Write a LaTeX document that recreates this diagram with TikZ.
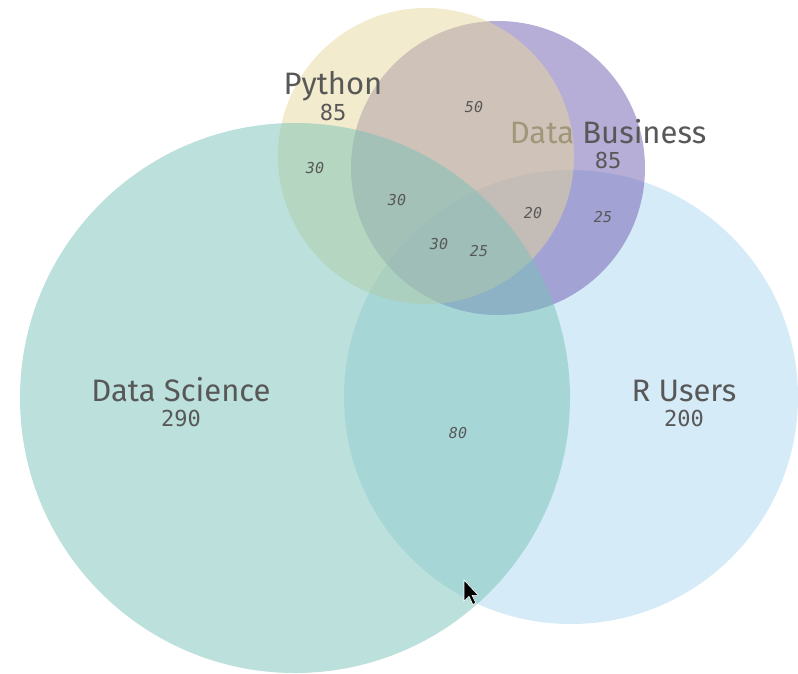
\documentclass[tikz,border=0pt]{standalone}
\usepackage{fontspec}
\usepackage{xcolor}
\setmainfont{Fira Sans}
\newfontfamily\numfont{DejaVu Sans Mono}
\definecolor{dsteal}{RGB}{121,193,183}
\definecolor{rublue}{RGB}{173,215,241}
\definecolor{pycream}{RGB}{231,215,155}
\definecolor{dbviolet}{RGB}{111,93,177}
\definecolor{labelgray}{RGB}{88,88,88}
\usetikzlibrary{positioning}

\begin{document}
\begin{tikzpicture}[x=1pt,y=-1pt,
  setfill/.style={fill opacity=0.5},
  setname/.style={text=labelgray,inner sep=0pt,anchor=base,font=\fontsize{31}{31}\selectfont},
  setcount/.style={text=labelgray,inner sep=0pt,font=\numfont\fontsize{22}{22}\selectfont},
  zonecount/.style={text=labelgray,inner sep=0pt,font=\numfont\itshape\fontsize{15}{15}\selectfont}]
\useasboundingbox (0,0) rectangle (798,673);
% sets, back to front
\fill[rublue,setfill] (571,397) circle (227pt);
\fill[dbviolet,setfill] (498,168) circle (147pt);
\node[setname] (dbname) at (608,143) {Data Business};
\node[setcount,below=9pt of dbname.base] (dbcount) {85};
\fill[pycream,setfill] (426,156) circle (148pt);
\fill[dsteal,setfill] (295,398) circle (275pt);
% set labels
\node[setname] (pyname) at (333,94) {Python};
\node[setcount,below=10pt of pyname.base] (pycount) {85};
\node[setname] (dsname) at (181,401) {Data Science};
\node[setcount,below=9pt of dsname.base] (dscount) {290};
\node[setname] (runame) at (684,401) {R Users};
\node[setcount,below=9pt of runame.base] (rucount) {200};
% zone counts
\node[zonecount] (pydb) at (474,107) {50};
\node[zonecount] (pyds) at (315,168) {30};
\node[zonecount] (pydbds) at (397,200) {30};
\node[zonecount] (pydbru) at (533,213) {20};
\node[zonecount] (dbru) at (603,217) {25};
\node[zonecount] (allpy) at (439,244) {30};
\node[zonecount] (alldb) at (479,251) {25};
\node[zonecount] (dsru) at (458,433) {80};
% mouse pointer
\fill[black,draw=white,line width=0.6pt,shift={(464,580)},scale=1.25]
  (0,0) -- (0,17) -- (4,13) -- (7,19.5) -- (9.5,18.5) -- (6.5,12.3) -- (11.5,12.3) -- cycle;
\end{tikzpicture}
\end{document}
